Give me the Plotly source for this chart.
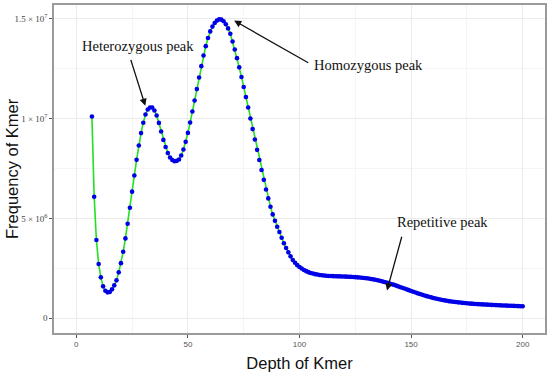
import plotly.graph_objects as go

# ---- data ----
depth = list(range(7, 201))
frequency = [
    # 7-16
    1.01e7, 6.08e6, 3.92e6, 2.72e6, 2.05e6, 1.60e6, 1.38e6, 1.30e6, 1.32e6, 1.45e6,
    # 17-32
    1.65e6, 1.90e6, 2.30e6, 2.76e6, 3.33e6, 4.00e6, 4.73e6, 5.53e6, 6.34e6, 7.15e6,
    7.93e6, 8.65e6, 9.27e6, 9.79e6, 1.020e7, 1.045e7,
    # 33-45
    1.055e7, 1.055e7, 1.040e7, 1.015e7, 9.78e6, 9.35e6, 8.93e6, 8.57e6, 8.27e6, 8.05e6,
    7.92e6, 7.86e6, 7.88e6,
    # 46-64
    7.95e6, 8.15e6, 8.45e6, 8.83e6, 9.28e6, 9.80e6, 1.035e7, 1.090e7, 1.147e7, 1.205e7,
    1.262e7, 1.315e7, 1.362e7, 1.403e7, 1.436e7, 1.460e7, 1.478e7, 1.490e7, 1.496e7,
    # 65-80
    1.495e7, 1.487e7, 1.472e7, 1.451e7, 1.424e7, 1.385e7, 1.345e7, 1.302e7, 1.256e7,
    1.208e7, 1.158e7, 1.107e7, 1.055e7, 1.000e7, 9.47e6, 8.95e6,
    # 81-100
    8.43e6, 7.92e6, 7.42e6, 6.93e6, 6.45e6, 6.00e6, 5.58e6, 5.20e6, 4.88e6, 4.58e6,
    4.32e6, 4.03e6, 3.76e6, 3.52e6, 3.30e6, 3.10e6, 2.92e6, 2.78e6, 2.66e6, 2.57e6,
    # 101-120
    2.49e6, 2.42e6, 2.36e6, 2.31e6, 2.27e6, 2.24e6, 2.21e6, 2.19e6, 2.17e6, 2.155e6,
    2.14e6, 2.13e6, 2.12e6, 2.115e6, 2.11e6, 2.105e6, 2.10e6, 2.10e6, 2.095e6, 2.09e6,
    # 121-140
    2.085e6, 2.08e6, 2.075e6, 2.07e6, 2.06e6, 2.05e6, 2.04e6, 2.03e6, 2.02e6, 2.005e6,
    1.99e6, 1.97e6, 1.95e6, 1.93e6, 1.905e6, 1.88e6, 1.85e6, 1.82e6, 1.79e6, 1.76e6,
    # 141-160
    1.72e6, 1.685e6, 1.65e6, 1.61e6, 1.57e6, 1.53e6, 1.49e6, 1.45e6, 1.41e6, 1.37e6,
    1.33e6, 1.29e6, 1.25e6, 1.215e6, 1.18e6, 1.145e6, 1.11e6, 1.08e6, 1.05e6, 1.02e6,
    # 161-180
    9.95e5, 9.70e5, 9.45e5, 9.20e5, 9.00e5, 8.80e5, 8.60e5, 8.45e5, 8.30e5, 8.15e5,
    8.00e5, 7.90e5, 7.75e5, 7.65e5, 7.55e5, 7.45e5, 7.35e5, 7.25e5, 7.18e5, 7.10e5,
    # 181-200
    7.03e5, 6.96e5, 6.90e5, 6.84e5, 6.78e5, 6.72e5, 6.67e5, 6.62e5, 6.57e5, 6.50e5,
    6.45e5, 6.40e5, 6.35e5, 6.30e5, 6.25e5, 6.20e5, 6.15e5, 6.10e5, 6.05e5, 6.00e5,
]

x_ticks = [0, 50, 100, 150, 200]
y_ticks = [0, 5e6, 1e7, 1.5e7]
y_tick_labels = ["0", "5 × 10<sup>6</sup>", "1 × 10<sup>7</sup>", "1.5 × 10<sup>7</sup>"]

x_title = "Depth of Kmer"
y_title = "Frequency of Kmer"

labels = ["Heterozygous peak", "Homozygous peak", "Repetitive peak"]
label_pos = [(27.6, 1.363e7), (130.8, 1.27e7), (163.9, 4.83e6)]
arrow_head = [(30.9, 1.0635e7), (70.7, 1.490e7), (139.2, 1.39e6)]
arrow_tail = [(24.2, 1.301e7), (104.6, 1.275e7), (146.0, 4.155e6)]

serif = "Liberation Serif, Times New Roman, serif"
sans = "Liberation Sans, Arial, sans-serif"

fig = go.Figure()
fig.add_trace(go.Scatter(
    x=depth, y=frequency, mode="lines",
    line=dict(color="#22e022", width=1.6),
    hoverinfo="skip", showlegend=False,
))
fig.add_trace(go.Scatter(
    x=depth, y=frequency, mode="markers",
    marker=dict(color="#0000e6", size=4.6, line=dict(width=0)),
    showlegend=False,
))

annotations = []
for t, (lx, ly) in zip(labels, label_pos):
    annotations.append(dict(
        x=lx, y=ly, xref="x", yref="y", text=t, showarrow=False,
        font=dict(family=serif, size=14.5, color="#111111"),
        xanchor="center", yanchor="middle",
    ))
for (hx, hy), (tx, ty) in zip(arrow_head, arrow_tail):
    annotations.append(dict(
        x=hx, y=hy, xref="x", yref="y", ax=tx, ay=ty, axref="x", ayref="y",
        text="", showarrow=True, arrowhead=2, arrowsize=1.1, arrowwidth=1.3,
        arrowcolor="#111111", standoff=0, startstandoff=0,
    ))
# y-axis title placed as a rotated paper annotation (left of tick labels)
annotations.append(dict(
    x=-0.0855, y=0.5, xref="paper", yref="paper", text=y_title, showarrow=False,
    textangle=-90, xanchor="center", yanchor="middle",
    font=dict(family=sans, size=16.5, color="#111111"),
))

fig.update_layout(
    width=550, height=376,
    margin=dict(l=54, r=5, t=5, b=43, autoexpand=False),
    paper_bgcolor="white", plot_bgcolor="white",
    annotations=annotations,
    xaxis=dict(
        range=[-10, 210], tickvals=x_ticks, ticktext=[str(v) for v in x_ticks],
        automargin=False,
        showgrid=True, gridcolor="#ebebeb", gridwidth=0.8,
        minor=dict(dtick=25, tick0=0, showgrid=True, gridcolor="#f5f5f5", gridwidth=0.6),
        zeroline=False, showline=True, linecolor="#9a9a9a", linewidth=1.6, mirror=True,
        ticks="outside", ticklen=3, tickcolor="#555555", tickwidth=0.8,
        tickfont=dict(family=sans, size=8, color="#555555"),
        title=dict(text=x_title, font=dict(family=sans, size=16.5, color="#111111"),
                   standoff=9),
    ),
    yaxis=dict(
        range=[-7.35e5, 1.568e7], tickvals=y_ticks, ticktext=y_tick_labels,
        automargin=False,
        showgrid=True, gridcolor="#ebebeb", gridwidth=0.8,
        minor=dict(dtick=2.5e6, tick0=0, showgrid=True, gridcolor="#f5f5f5", gridwidth=0.6),
        zeroline=False, showline=True, linecolor="#9a9a9a", linewidth=1.6, mirror=True,
        ticks="outside", ticklen=3, tickcolor="#555555", tickwidth=0.8,
        tickfont=dict(family=serif, size=9, color="#444444"),
    ),
)

fig.write_html("out.html", config={"displayModeBar": False},
               post_script="document.body.style.margin='0';")
